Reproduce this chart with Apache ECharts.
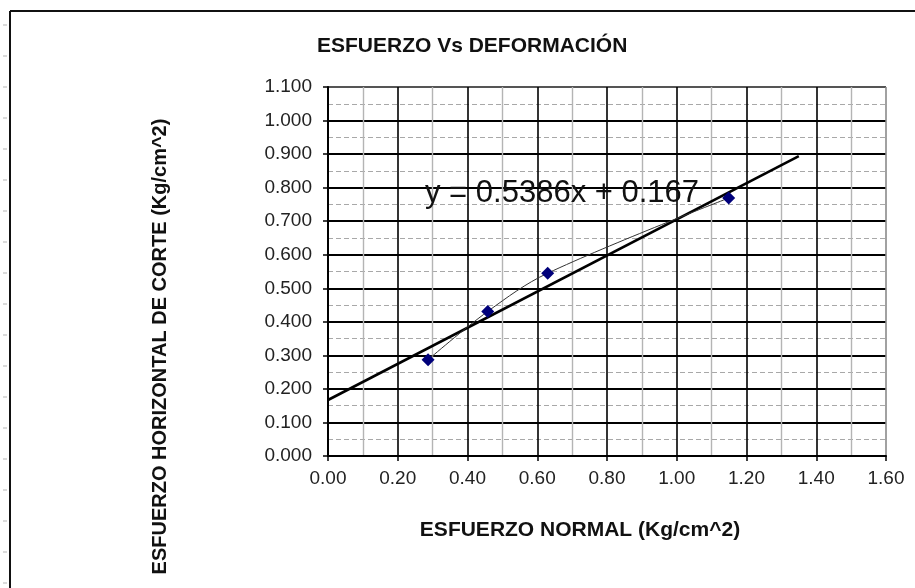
<!DOCTYPE html>
<html>
<head>
<meta charset="utf-8">
<script src="https://cdn.jsdelivr.net/npm/echarts@6/dist/echarts.min.js"></script>
<style>
html,body{margin:0;padding:0;background:#fff;}
#c{width:915px;height:588px;}
</style>
</head>
<body>
<div id="c"></div>
<script>
// ---- data ----
const normalStress = [0.287, 0.458, 0.630, 1.149];   // x, Kg/cm^2
const shearStress  = [0.287, 0.431, 0.545, 0.769];   // y, Kg/cm^2
const trendSlope = 0.5386;
const trendIntercept = 0.167;
const trendRangeX = [0, 1.35];
const xTicks = [0.00, 0.20, 0.40, 0.60, 0.80, 1.00, 1.20, 1.40, 1.60];
const yTicks = [0.000, 0.100, 0.200, 0.300, 0.400, 0.500, 0.600, 0.700, 0.800, 0.900, 1.000, 1.100];
const chartTitle = 'ESFUERZO Vs DEFORMACIÓN';
const xName = 'ESFUERZO NORMAL (Kg/cm^2)';
const yName = 'ESFUERZO HORIZONTAL DE CORTE (Kg/cm^2)';
const equationText = 'y = 0.5386x + 0.167';

const pts = normalStress.map((x, i) => [x, shearStress[i]]);
const trendPts = trendRangeX.map(x => [x, trendSlope * x + trendIntercept]);

const FONT = '"Liberation Sans", Arial, sans-serif';
const xSplitColors = xTicks.map((v, i) => i === xTicks.length - 1 ? '#8a8a8a' : '#000');
const ySplitColors = yTicks.map((v, i) => i === yTicks.length - 1 ? '#555' : '#000');

// frame decoration (spreadsheet margin ticks)
const rulerMarks = [];
for (let y = 25; y < 588; y += 31) {
  rulerMarks.push({type: 'line', silent: true,
    shape: {x1: 3, y1: y, x2: 7, y2: y},
    style: {stroke: '#b5b5b5', lineWidth: 1}});
}

const chart = echarts.init(document.getElementById('c'), null, {renderer: 'canvas'});
chart.setOption({
  backgroundColor: '#fff',
  animation: false,
  title: {
    text: chartTitle,
    left: 312, top: 31,
    textStyle: {fontFamily: FONT, fontSize: 21, fontWeight: 'bold', color: '#111'}
  },
  grid: {left: 328, right: 29, top: 87, bottom: 132, containLabel: false},
  xAxis: {
    type: 'value',
    min: xTicks[0], max: xTicks[xTicks.length - 1], interval: 0.2,
    name: xName, nameLocation: 'middle', nameGap: 64,
    nameTextStyle: {fontFamily: FONT, fontSize: 21, fontWeight: 'bold', color: '#111', padding: [0, 54, 0, 0]},
    axisLine: {show: true, onZero: false, lineStyle: {color: '#000', width: 2}},
    axisTick: {show: true, length: 5, lineStyle: {color: '#000', width: 1.5}},
    axisLabel: {fontFamily: FONT, fontSize: 19, color: '#222', margin: 13,
      formatter: v => v.toFixed(2)},
    splitLine: {show: true, lineStyle: {color: xSplitColors, width: 1.6}},
    minorTick: {show: false, splitNumber: 2},
    minorSplitLine: {show: true, lineStyle: {color: '#b4b4b4', width: 1.4}}
  },
  yAxis: {
    type: 'value',
    min: yTicks[0], max: yTicks[yTicks.length - 1], interval: 0.1,
    name: yName, nameLocation: 'middle', nameGap: 158,
    nameTextStyle: {fontFamily: FONT, fontSize: 20, fontWeight: 'bold', color: '#111', padding: [0, 150, 0, 0]},
    axisLine: {show: true, onZero: false, lineStyle: {color: '#000', width: 2}},
    axisTick: {show: true, length: 5, lineStyle: {color: '#000', width: 1.5}},
    axisLabel: {fontFamily: FONT, fontSize: 19, color: '#222', margin: 16,
      formatter: v => v.toFixed(3)},
    splitLine: {show: true, lineStyle: {color: ySplitColors, width: 1.8}},
    minorTick: {show: false, splitNumber: 2},
    minorSplitLine: {show: true, lineStyle: {color: '#a8a8a8', width: 1, type: [5, 3]}}
  },
  series: [
    {
      name: 'Datos',
      type: 'line',
      data: pts,
      smooth: 0.35,
      symbol: 'diamond',
      symbolSize: 13,
      itemStyle: {color: '#00007a', borderWidth: 0},
      lineStyle: {color: '#333', width: 1},
      z: 4
    },
    {
      name: 'Tendencia',
      type: 'line',
      data: trendPts,
      symbol: 'none',
      lineStyle: {color: '#000', width: 2.6},
      z: 3
    }
  ],
  graphic: [
    {type: 'line', silent: true, shape: {x1: 10, y1: 11, x2: 915, y2: 11}, style: {stroke: '#111', lineWidth: 2}},
    {type: 'line', silent: true, shape: {x1: 10, y1: 11, x2: 10, y2: 588}, style: {stroke: '#111', lineWidth: 2}},
    ...rulerMarks,
    {type: 'text', silent: true, x: 425, y: 193, z: 10,
      style: {text: equationText, fontFamily: FONT, fontSize: 31, fill: '#111', verticalAlign: 'middle', align: 'left'}}
  ]
});
</script>
</body>
</html>
